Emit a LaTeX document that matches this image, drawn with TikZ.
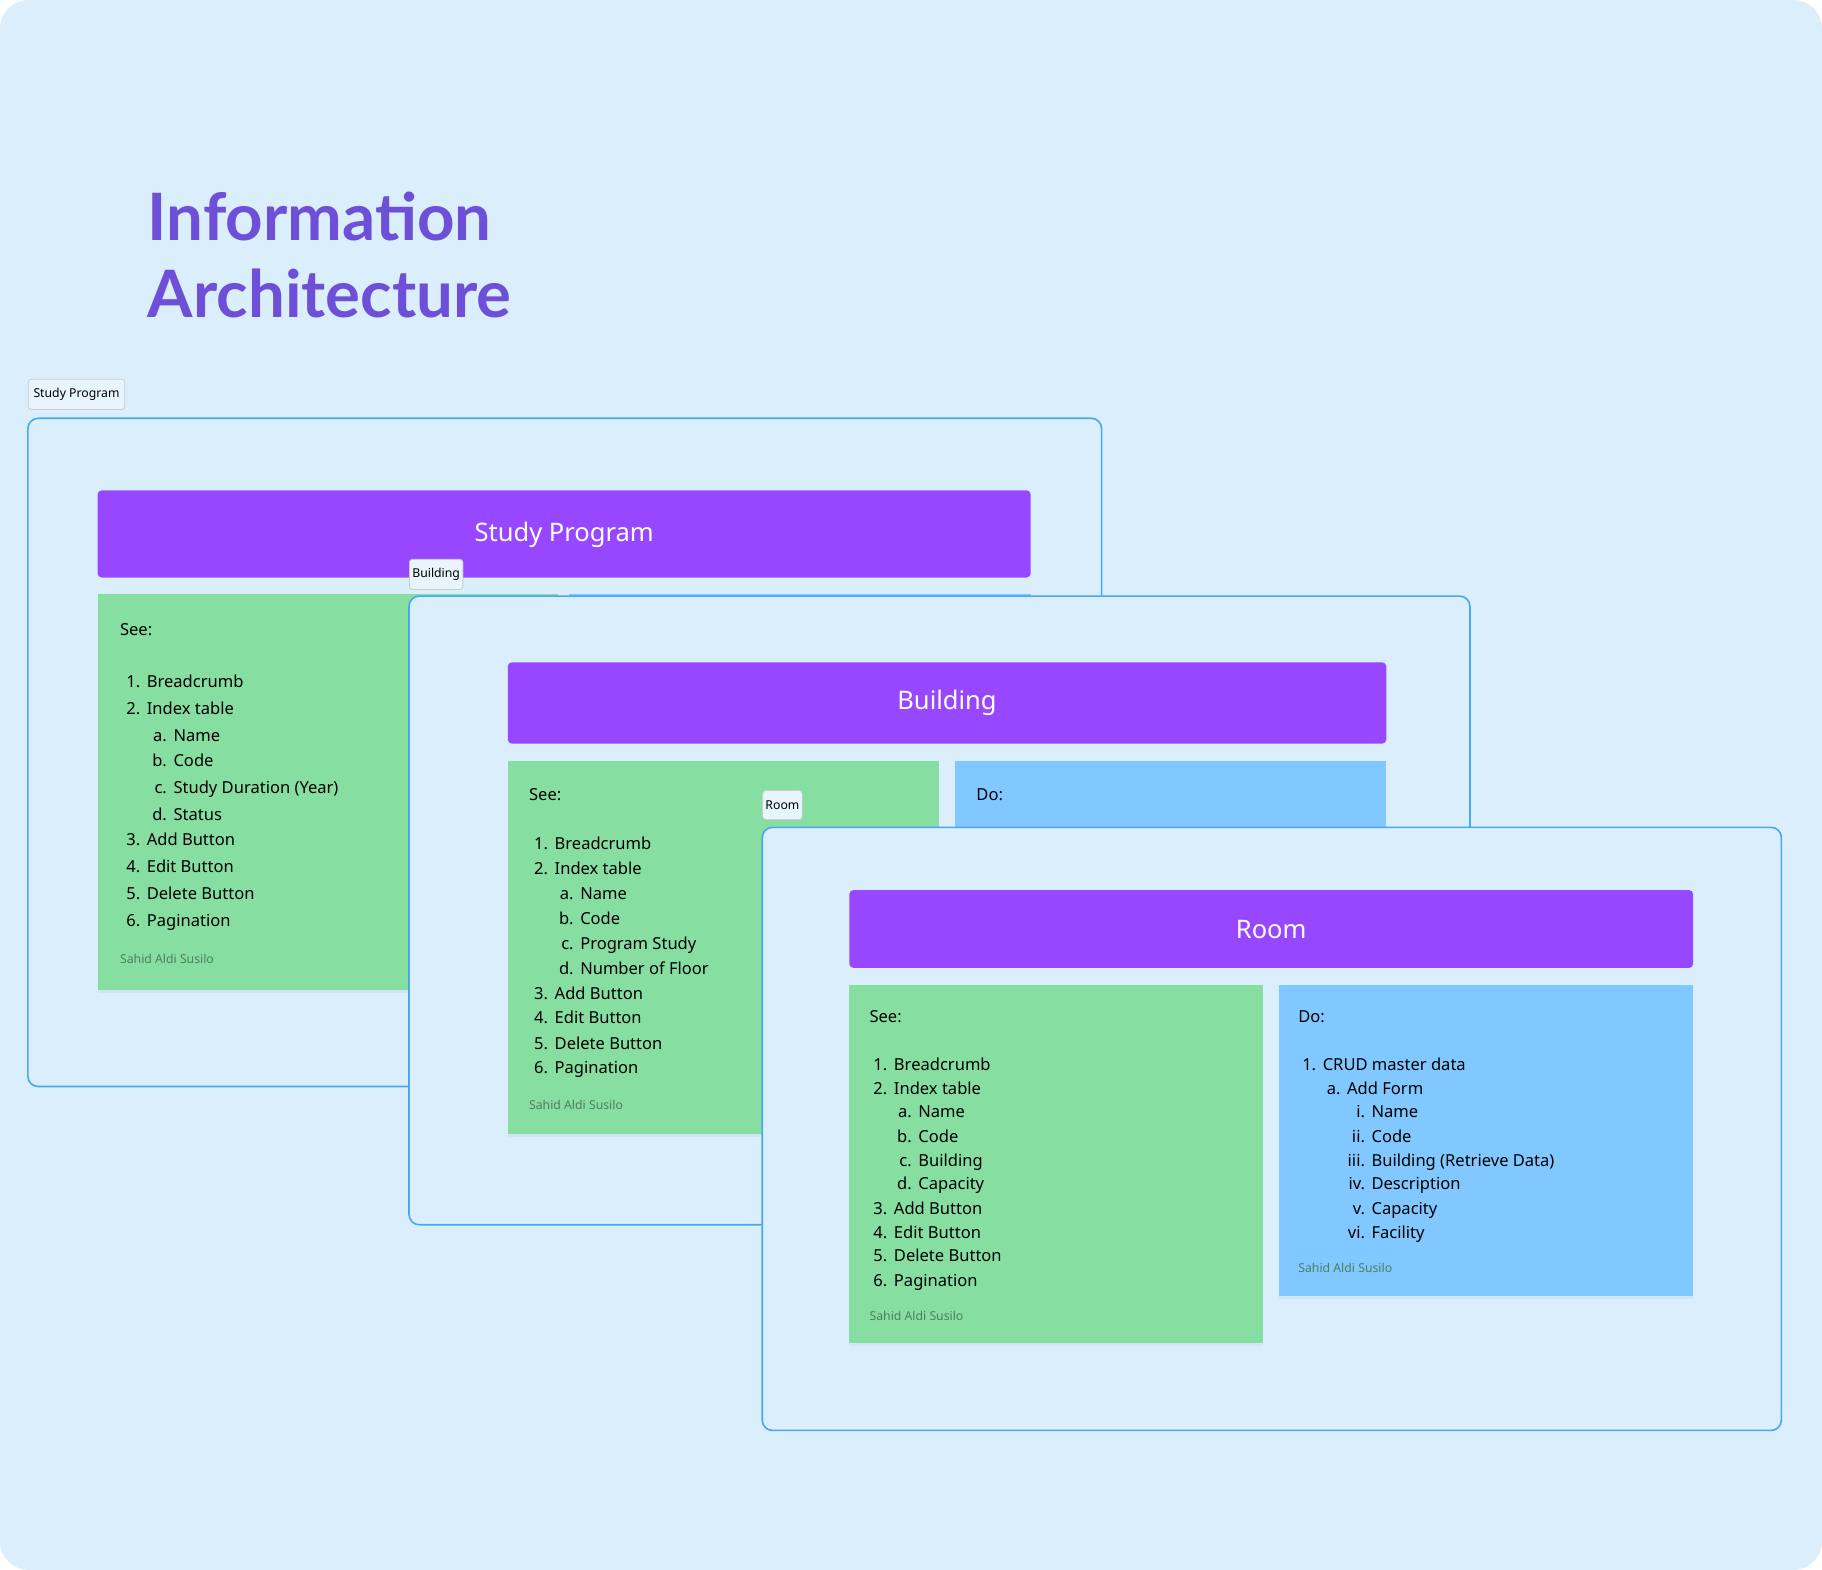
\documentclass[tikz,border=0pt]{standalone}
\usepackage{fontspec}
\setmainfont{Noto Sans}
\newfontfamily\titlefont{Lato}
\usetikzlibrary{positioning,shadows}
\definecolor{bgblue}{HTML}{DAEEFC}
\definecolor{framebl}{HTML}{4AA8F0}
\definecolor{titlepur}{HTML}{6E4FD8}
\definecolor{headpur}{HTML}{9747FF}
\definecolor{stickygr}{HTML}{86DFA0}
\definecolor{stickybl}{HTML}{80C8FF}
\definecolor{footgr}{HTML}{4F7F5E}
\tikzset{
  frame/.style={draw=framebl,line width=0.8pt,rounded corners=5pt,fill=bgblue},
  tag/.style={draw=black!20,fill=bgblue!60!white,rounded corners=1.5pt,font=\fontsize{6}{7}\selectfont,inner sep=0pt,anchor=north west},
  header/.style={fill=headpur,rounded corners=2pt},
  htext/.style={text=white,font=\fontsize{12.5}{14}\selectfont},
  sticky/.style={drop shadow={opacity=0.08,shadow xshift=0pt,shadow yshift=-1.5pt}},
  itm/.style={font=\fontsize{8.1}{10}\selectfont,anchor=base west,inner sep=0pt},
  num/.style={font=\fontsize{8.1}{10}\selectfont,anchor=base east,inner sep=0pt},
  foot/.style={font=\fontsize{6}{7}\selectfont,text=footgr,anchor=base west,inner sep=0pt}
}
% label ending at #1, text starting at #1+5, baseline #2
\newcommand{\itm}[4]{\node[num] at (#1,#2) {#3}; \node[itm] at (#1+5,#2) {#4};}
\begin{document}
\begin{tikzpicture}[x=0.02cm,y=-0.02cm]
\useasboundingbox (0,0) rectangle (1568,1351);
\fill[bgblue,rounded corners=14pt] (0,0) rectangle (1568,1351);

% title
\node[anchor=base west,inner sep=0pt,text=titlepur,font=\titlefont\fontsize{32}{36}\bfseries\selectfont] (title1) at (127,207) {Information};
\node[anchor=base west,inner sep=0pt,text=titlepur,font=\titlefont\fontsize{32}{36}\bfseries\selectfont] (title2) at (127,273) {Architecture};

% study program
\node[tag,minimum width=83*0.02cm,minimum height=26*0.02cm] (tagsp) at (24,326) {Study Program};
\draw[frame] (24,360) rectangle (948,935);
\fill[header] (84,422) rectangle (887,497);
\node[htext] (hsp) at (485.5,460) {Study Program};
\fill[stickybl,sticky] (490,511) rectangle (887,852);
\fill[stickygr,sticky] (84,511) rectangle (480,852);
\node[itm] (seesp) at (103,547) {See:};
\foreach \y/\n/\t in {592/1./Breadcrumb,615/2./Index table,728/3./Add Button,751/4./Edit Button,774/5./Delete Button,797/6./Pagination}
  {\itm{121}{\y}{\n}{\t}}
\foreach \y/\n/\t in {638/a./Name,660/b./Code,683/c./Study Duration (Year),706/d./Status}
  {\itm{144}{\y}{\n}{\t}}
\node[foot] (ftsp) at (103,829) {Sahid Aldi Susilo};

% building
\node[tag,minimum width=46*0.02cm,minimum height=26*0.02cm] (tagbd) at (352,481) {Building};
\draw[frame] (352,513) rectangle (1265,1054);
\fill[header] (437,570) rectangle (1193,640);
\node[htext] (hbd) at (815,605) {Building};
\fill[stickygr,sticky] (437,655) rectangle (808,976);
\fill[stickybl,sticky] (822,655) rectangle (1193,976);
\node[itm] (seebd) at (455,689) {See:};
\node[itm] (dobd) at (840,689) {Do:};
\foreach \y/\n/\t in {731/1./Breadcrumb,753/2./Index table,860/3./Add Button,881/4./Edit Button,903/5./Delete Button,924/6./Pagination}
  {\itm{472}{\y}{\n}{\t}}
\foreach \y/\n/\t in {774/a./Name,796/b./Code,817/c./Program Study,839/d./Number of Floor}
  {\itm{494}{\y}{\n}{\t}}
\node[foot] (ftbd) at (455,955) {Sahid Aldi Susilo};

% room
\node[tag,minimum width=34*0.02cm,minimum height=25*0.02cm] (tagrm) at (656,680) {Room};
\draw[frame] (656,712) rectangle (1533,1231);
\fill[header] (731,766) rectangle (1457,833);
\node[htext] (hrm) at (1094,800) {Room};
\fill[stickygr,sticky] (731,848) rectangle (1087,1156);
\fill[stickybl,sticky] (1101,848) rectangle (1457,1115);
\node[itm] (seerm) at (748,880) {See:};
\foreach \y/\n/\t in {921/1./Breadcrumb,942/2./Index table,1045/3./Add Button,1066/4./Edit Button,1086/5./Delete Button,1107/6./Pagination}
  {\itm{764}{\y}{\n}{\t}}
\foreach \y/\n/\t in {962/a./Name,983/b./Code,1004/c./Building,1024/d./Capacity}
  {\itm{785}{\y}{\n}{\t}}
\node[foot] (ftrm) at (748,1136) {Sahid Aldi Susilo};
\node[itm] (dorm) at (1117,880) {Do:};
\itm{1133}{921}{1.}{CRUD master data}
\itm{1154}{942}{a.}{Add Form}
\foreach \y/\n/\t in {962/i./Name,983/ii./Code,1004/iii./Building (Retrieve Data),1024/iv./Description,1045/v./Capacity,1066/vi./Facility}
  {\itm{1175}{\y}{\n}{\t}}
\node[foot] (ftdo) at (1117,1095) {Sahid Aldi Susilo};
\end{tikzpicture}
\end{document}
